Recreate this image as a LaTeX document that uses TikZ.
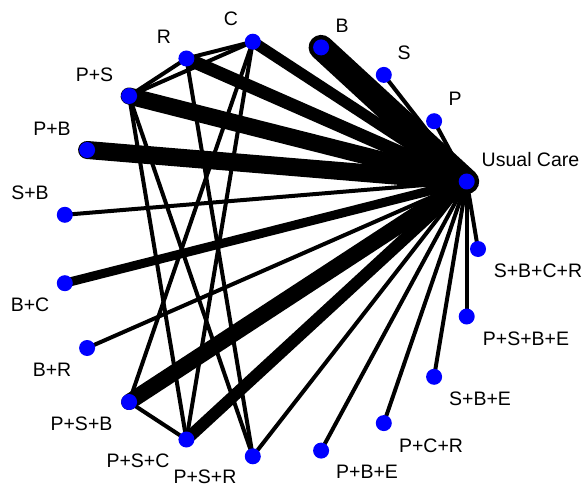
\documentclass[tikz,border=0pt]{standalone}
\usepackage{fontspec}
\setmainfont{Liberation Sans}
\begin{document}
\begin{tikzpicture}[x=1pt,y=-1pt,
  dot/.style={circle,fill=blue,draw=none,minimum size=16pt,inner sep=0pt},
  lab/.style={inner sep=0pt,anchor=center,font=\fontsize{19.5}{20}\selectfont},
  edge/.style={line cap=round,draw=black,line width=4pt},
  w/.style={line cap=round,draw=black,line width=#1}]
\useasboundingbox (0,0) rectangle (585,486);
% nodes (positions)
\coordinate (SBCR) at (478.0,249.0);
\coordinate (UC)   at (466.7,181.5);
\coordinate (P)    at (434.1,121.2);
\coordinate (S)    at (383.8,74.9);
\coordinate (B)    at (321.1,47.4);
\coordinate (C)    at (252.8,41.7);
\coordinate (R)    at (186.4,58.5);
\coordinate (PS)   at (129.1,96.0);
\coordinate (PB)   at (87.1,150.0);
\coordinate (SB)   at (64.8,214.8);
\coordinate (BC)   at (64.8,283.2);
\coordinate (BR)   at (87.1,348.0);
\coordinate (PSB)  at (129.1,402.0);
\coordinate (PSC)  at (186.4,439.5);
\coordinate (PSR)  at (252.8,456.3);
\coordinate (PBE)  at (321.1,450.6);
\coordinate (PCR)  at (383.8,423.1);
\coordinate (SBE)  at (434.1,376.8);
\coordinate (PSBE) at (466.7,316.5);
% edges
\draw[w=25pt] (UC) -- (B);
\draw[w=18pt] (UC) -- (PB);
\draw[w=17pt] (UC) -- (PS);
\draw[w=16pt] (UC) -- (PSB);
\draw[w=13pt] (UC) -- (R);
\draw[w=12pt] (UC) -- (PSC);
\draw[w=11pt] (UC) -- (C);
\draw[w=9pt]  (UC) -- (BC);
\draw[edge] (UC) -- (S);
\draw[edge] (UC) -- (P);
\draw[edge] (UC) -- (SB);
\draw[edge] (UC) -- (BR);
\draw[edge] (UC) -- (PSR);
\draw[edge] (UC) -- (PBE);
\draw[edge] (UC) -- (PCR);
\draw[edge] (UC) -- (SBE);
\draw[edge] (UC) -- (PSBE);
\draw[edge] (UC) -- (SBCR);
\draw[edge] (PS) -- (R);
\draw[edge] (PS) -- (C);
\draw[edge] (R) -- (C);
\draw[edge] (PS) -- (PSC);
\draw[edge] (PS) -- (PSR);
\draw[edge] (R) -- (PSR);
\draw[edge] (C) -- (PSB);
\draw[edge] (C) -- (PSC);
\draw[edge] (PSB) -- (PSC);
% dots
\foreach \n in {SBCR,UC,P,S,B,C,R,PS,PB,SB,BC,BR,PSB,PSC,PSR,PBE,PCR,SBE,PSBE}
  \node[dot] (d\n) at (\n) {};
% labels
\node[lab] (lUC) at (530.5,160) {Usual Care};
\node[lab] (lB) at (342,26) {B};
\node[lab] (lS) at (404,53) {S};
\node[lab] (lP) at (455,99) {P};
\node[lab] (lC) at (231,19) {C};
\node[lab] (lR) at (164,37) {R};
\node[lab] (lPS) at (94.5,75) {P+S};
\node[lab] (lPB) at (52,128.5) {P+B};
\node[lab] (lSB) at (30,193) {S+B};
\node[lab] (lBC) at (30,305) {B+C};
\node[lab] (lBR) at (52,370) {B+R};
\node[lab] (lPSB) at (81.5,424) {P+S+B};
\node[lab] (lPSC) at (138,461) {P+S+C};
\node[lab] (lPSR) at (205,476.5) {P+S+R};
\node[lab] (lPBE) at (367,472) {P+B+E};
\node[lab] (lPCR) at (431,446) {P+C+R};
\node[lab] (lSBE) at (480,399) {S+B+E};
\node[lab] (lPSBE) at (526,339) {P+S+B+E};
\node[lab] (lSBCR) at (538,271) {S+B+C+R};
\end{tikzpicture}
\end{document}
